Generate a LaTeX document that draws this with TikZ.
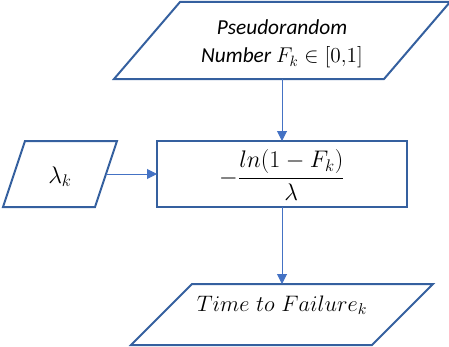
\RequirePackage{fix-cm}
\documentclass[tikz,border=0pt]{standalone}
\usepackage{fontspec}
\usepackage{amsmath}
\newfontfamily\calibri{Carlito}
\usetikzlibrary{arrows.meta}
\definecolor{boxblue}{HTML}{35609F}
\definecolor{flowblue}{HTML}{4472C4}

\begin{document}
\begin{tikzpicture}[->,>={Triangle[length=7.5pt,width=7.5pt]},x=0.75pt,y=-0.75pt]
  \tikzstyle{every node}=[inner sep=0pt,outer sep=0pt,font=\fontsize{18}{21}\selectfont]
  \tikzstyle{outline}=[-,draw=boxblue,line width=1.5pt,line join=miter]
  \tikzstyle{flow}=[draw=flowblue,fill=flowblue,line width=0.75pt]

  \useasboundingbox (0,0) rectangle (449,346);

  \node[minimum width=202.5pt,minimum height=57.75pt,text height=0pt,text depth=8.25pt,
        font=\fontsize{16}{21}\selectfont] (rand) at (282,40.5)
       {\calibri\itshape\begin{tabular}[t]{@{}c@{}}Pseudorandom\\ Number $F_k \in [0{,}1]$\end{tabular}};
  \node[minimum width=187.5pt,minimum height=49.5pt,text height=15pt,text depth=0pt] (calc) at (282,174)
       {$-\dfrac{ln(1-F_k)}{\lambda}$};
  \node[minimum width=69pt,minimum height=49.5pt,text height=13.5pt,text depth=0pt] (rate) at (60,174) {$\lambda_k$};
  \node[minimum width=180.75pt,minimum height=45.75pt,text height=0pt,text depth=5.25pt,
        font=\fontsize{16.8}{20}\selectfont] (ttf) at (282,314.5)
       {$Time\ to\ Failure_k$};

  % slanted data boxes
  \draw[outline] ([xshift=-24.75pt]rand.south west) -- ([xshift=-24.75pt]rand.south east)
     -- ([xshift=24.75pt]rand.north east) -- ([xshift=24.75pt]rand.north west) -- cycle;
  \draw[outline] ([xshift=-8.25pt]rate.south west) -- ([xshift=-8.25pt]rate.south east)
     -- ([xshift=8.25pt]rate.north east) -- ([xshift=8.25pt]rate.north west) -- cycle;
  \draw[outline] ([xshift=-22.875pt]ttf.south west) -- ([xshift=-22.875pt]ttf.south east)
     -- ([xshift=22.875pt]ttf.north east) -- ([xshift=22.875pt]ttf.north west) -- cycle;
  \draw[outline] (calc.south west) rectangle (calc.north east);

  \path (rand) edge[flow] (calc)
        (rate) edge[flow] (calc)
        (calc) edge[flow] (ttf);
\end{tikzpicture}
\end{document}
